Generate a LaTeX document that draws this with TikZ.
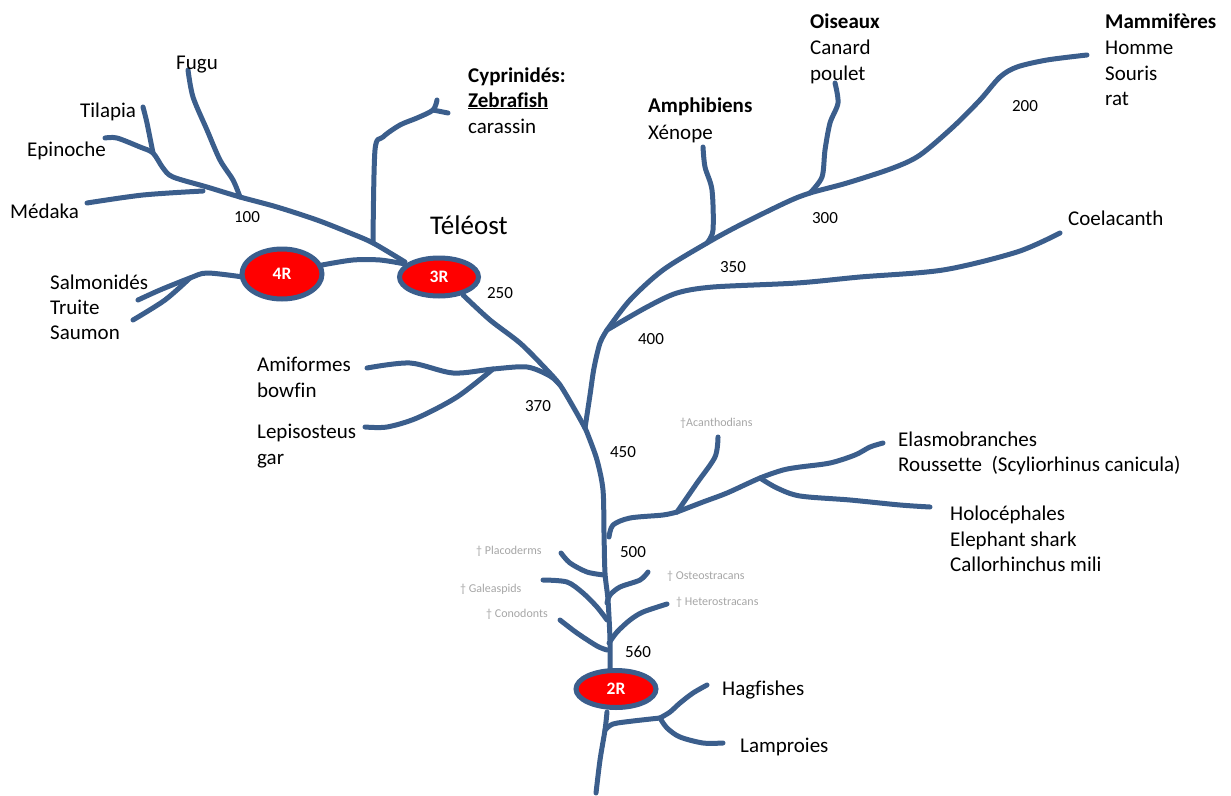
\documentclass[tikz,border=0pt]{standalone}
\usepackage{fontspec}
\setmainfont{Carlito}[Ligatures=NoCommon]
\usetikzlibrary{shapes.geometric}
\definecolor{treeblue}{RGB}{59,94,140}
\definecolor{fossilgray}{RGB}{166,166,166}
\begin{document}
\begin{tikzpicture}[x=1pt,y=-1pt,
  branch/.style={draw=treeblue,line width=5pt,line cap=round,line join=round},
  dup/.style={ellipse,draw=treeblue,line width=5pt,fill=red,text=white,inner sep=0pt,font=\fontsize{17.5}{20}\selectfont\bfseries},
  lbl/.style={anchor=base west,inner sep=0pt,font=\fontsize{21}{25}\selectfont},
  num/.style={anchor=base,inner sep=0pt,font=\fontsize{17}{20}\selectfont},
  fossil/.style={anchor=base west,inner sep=0pt,text=fossilgray,font=\fontsize{12}{14}\selectfont}]
\useasboundingbox (0,0) rectangle (1231,795);

% key junctions
\coordinate (trunkbot) at (596,793);
\coordinate (jlamp) at (605,730);
\coordinate (jagn) at (660,718);
\coordinate (jtet) at (585,428);
\coordinate (jcoel) at (607,330);
\coordinate (jxen) at (707,243);
\coordinate (jbird) at (810,193);
\coordinate (jamia) at (560,385);
\coordinate (jlepi) at (493,369);
\coordinate (jchond) at (677,512);
\coordinate (jholo) at (760,478);
\coordinate (jtel) at (373,243);
\coordinate (jfugu) at (240,197);
\coordinate (jtil) at (153,153);
\coordinate (jcyp) at (433,110);
\coordinate (jsal) at (190,278);

% --- trunk ---
\draw[branch] plot[smooth,tension=0.5] coordinates {(trunkbot) (600,760) (jlamp) (607,712)};
\draw[branch] plot[smooth,tension=0.5] coordinates {(610,668) (610,640) (608,600) (605,573) (604,533) (603,490) (597,460) (588,435) (jtet)};
% agnathans
\draw[branch] plot[smooth,tension=0.5] coordinates {(jlamp) (613,724) (633,721) (jagn)};
\draw[branch] plot[smooth,tension=0.5] coordinates {(jagn) (670,712) (680,703) (693,693) (707,685)};
\draw[branch] plot[smooth,tension=0.5] coordinates {(jagn) (667,728) (680,737) (703,743) (723,743)};
% fossil side branches
\draw[branch] plot[smooth,tension=0.5] coordinates {(560,620) (577,633) (597,646) (607,650)};
\draw[branch] plot[smooth,tension=0.5] coordinates {(543,580) (567,582) (583,593) (597,607) (607,620)};
\draw[branch] plot[smooth,tension=0.5] coordinates {(561,553) (570,563) (587,572) (604,575)};
\draw[branch] plot[smooth,tension=0.5] coordinates {(648,572) (640,580) (620,587) (610,595) (607,603)};
\draw[branch] plot[smooth,tension=0.5] coordinates {(667,604) (643,612) (630,620) (617,632) (609,643)};
% chondrichthyans
\draw[branch] plot[smooth,tension=0.5] coordinates {(609,537) (613,525) (630,518) (663,515) (jchond)};
\draw[branch] plot[smooth,tension=0.5] coordinates {(jchond) (697,483) (715,457) (718,437)};
\draw[branch] plot[smooth,tension=0.5] coordinates {(jchond) (703,502) (727,493) (jholo) (783,470) (800,467) (830,463) (855,455) (870,447) (883,443)};
\draw[branch] plot[smooth,tension=0.5] coordinates {(jholo) (777,488) (800,496) (850,500) (900,505) (930,507)};
% holosteans
\draw[branch] plot[smooth,tension=0.5] coordinates {(367,368) (410,363) (453,373) (jlepi) (527,367) (550,376) (jamia)};
\draw[branch] plot[smooth,tension=0.5] coordinates {(365,427) (387,427) (417,418) (457,397) (jlepi)};
% 3R to trunk
\draw[branch] plot[smooth,tension=0.5] coordinates {(463,295) (490,320) (520,343) (545,368) (jamia) (575,410) (jtet)};
% tetrapods / sarcopterygians
\draw[branch] plot[smooth,tension=0.5] coordinates {(jtet) (590,395) (594,368) (600,343) (jcoel)};
\draw[branch] plot[smooth,tension=0.5] coordinates {(jcoel) (630,300) (663,270) (jxen) (740,225) (787,202) (jbird) (847,183) (893,168) (920,155) (953,127) (980,100) (1000,77) (1017,67) (1047,60) (1087,55)};
\draw[branch] plot[smooth,tension=0.5] coordinates {(jxen) (713,230) (712,190) (705,167) (703,147)};
\draw[branch] plot[smooth,tension=0.5] coordinates {(jbird) (822,177) (825,150) (830,123) (838,103) (835,83)};
\draw[branch] plot[smooth,tension=0.5] coordinates {(jcoel) (647,307) (677,293) (713,287) (797,283) (860,277) (943,270) (1017,252) (1060,233)};
% teleosts
\draw[branch] plot[smooth,tension=0.5] coordinates {(105,138) (117,138) (140,147) (jtil) (163,168) (173,177) (207,187) (jfugu) (277,207) (317,220) (350,233) (jtel) (405,262)};
\draw[branch] plot[smooth,tension=0.5] coordinates {(143,107) (147,123) (jtil)};
\draw[branch] plot[smooth,tension=0.5] coordinates {(188,70) (193,97) (207,130) (220,160) (233,180) (jfugu)};
\draw[branch] plot[smooth,tension=0.5] coordinates {(87,203) (143,195) (203,191)};
\draw[branch] plot[smooth,tension=0.5] coordinates {(jtel) (375,150) (383,137) (400,125) (417,118) (jcyp) (437,100)};
\draw[branch] (jcyp) -- (448,113);
\draw[branch] plot[smooth,tension=0.5] coordinates {(322,265) (353,260) (380,260) (405,264)};
\draw[branch] plot[smooth,tension=0.5] coordinates {(243,277) (207,273) (jsal) (160,290) (138,300)};
\draw[branch] plot[smooth,tension=0.5] coordinates {(jsal) (165,300) (133,320)};

% duplication ellipses
\node[dup,minimum width=80pt,minimum height=37pt] (r2) at (616,689) {2R};
\node[dup,minimum width=79pt,minimum height=38pt] (r3) at (439,277) {3R};
\node[dup,minimum width=80pt,minimum height=50pt] (r4) at (282,274) {4R};

% labels
\node[lbl] (fugu) at (176,69) {Fugu};
\node[lbl] (tilapia) at (80,117) {Tilapia};
\node[lbl] (epinoche) at (27,156) {Epinoche};
\node[lbl] (medaka) at (10,218) {Médaka};
\node[num] (n100) at (247,222) {100};
\node[anchor=base west,inner sep=0pt,font=\fontsize{27}{32}\selectfont] (teleost) at (430,234) {Téléost};
\node[lbl] (salmo1) at (50,289) {Salmonidés};
\node[lbl] (salmo2) at (50,314) {Truite};
\node[lbl] (salmo3) at (50,339) {Saumon};
\node[lbl] (cyp1) at (468,82) {\textbf{Cyprinidés:}};
\node[lbl] (cyp2) at (468,107) {\textbf{\underline{Zebrafish}}};
\node[lbl] (cyp3) at (468,133) {carassin};
\node[num] (n250) at (500,298) {250};
\node[lbl] (ami1) at (257,371) {Amiformes};
\node[lbl] (ami2) at (257,397) {bowfin};
\node[lbl] (lep1) at (257,438) {Lepisosteus};
\node[lbl] (lep2) at (257,464) {gar};
\node[num] (n370) at (538,411) {370};
\node[num] (n450) at (623,457) {450};
\node[num] (n400) at (651,344) {400};
\node[num] (n350) at (733,272) {350};
\node[num] (n300) at (825,223) {300};
\node[num] (n200) at (1025,111) {200};
\node[lbl] (amph1) at (648,112) {\textbf{Amphibiens}};
\node[lbl] (amph2) at (648,139) {Xénope};
\node[lbl] (ois1) at (810,28) {\textbf{Oiseaux}};
\node[lbl] (ois2) at (810,54) {Canard};
\node[lbl] (ois3) at (810,80) {poulet};
\node[lbl] (mam1) at (1105,28) {\textbf{Mammifères}};
\node[lbl] (mam2) at (1105,54) {Homme};
\node[lbl] (mam3) at (1105,80) {Souris};
\node[lbl] (mam4) at (1105,105) {rat};
\node[lbl] (coel) at (1068,225) {Coelacanth};
\node[fossil] (acan) at (680,426) {†Acanthodians};
\node[lbl] (elas1) at (898,446) {Elasmobranches};
\node[lbl] (elas2) at (898,471) {Roussette\ \ (Scyliorhinus canicula)};
\node[lbl] (holo1) at (950,520) {Holocéphales};
\node[lbl] (holo2) at (950,546) {Elephant shark};
\node[lbl] (holo3) at (950,571) {Callorhinchus mili};
\node[num] (n500) at (633,557) {500};
\node[fossil] (placo) at (476,554) {† Placoderms};
\node[fossil] (galea) at (460,592) {† Galeaspids};
\node[fossil] (cono) at (486,617) {† Conodonts};
\node[fossil] (osteo) at (667,579) {† Osteostracans};
\node[fossil] (hetero) at (676,605) {† Heterostracans};
\node[num] (n560) at (638,657) {560};
\node[lbl] (hag) at (722,695) {Hagfishes};
\node[lbl] (lamp) at (740,752) {Lamproies};
\end{tikzpicture}
\end{document}
